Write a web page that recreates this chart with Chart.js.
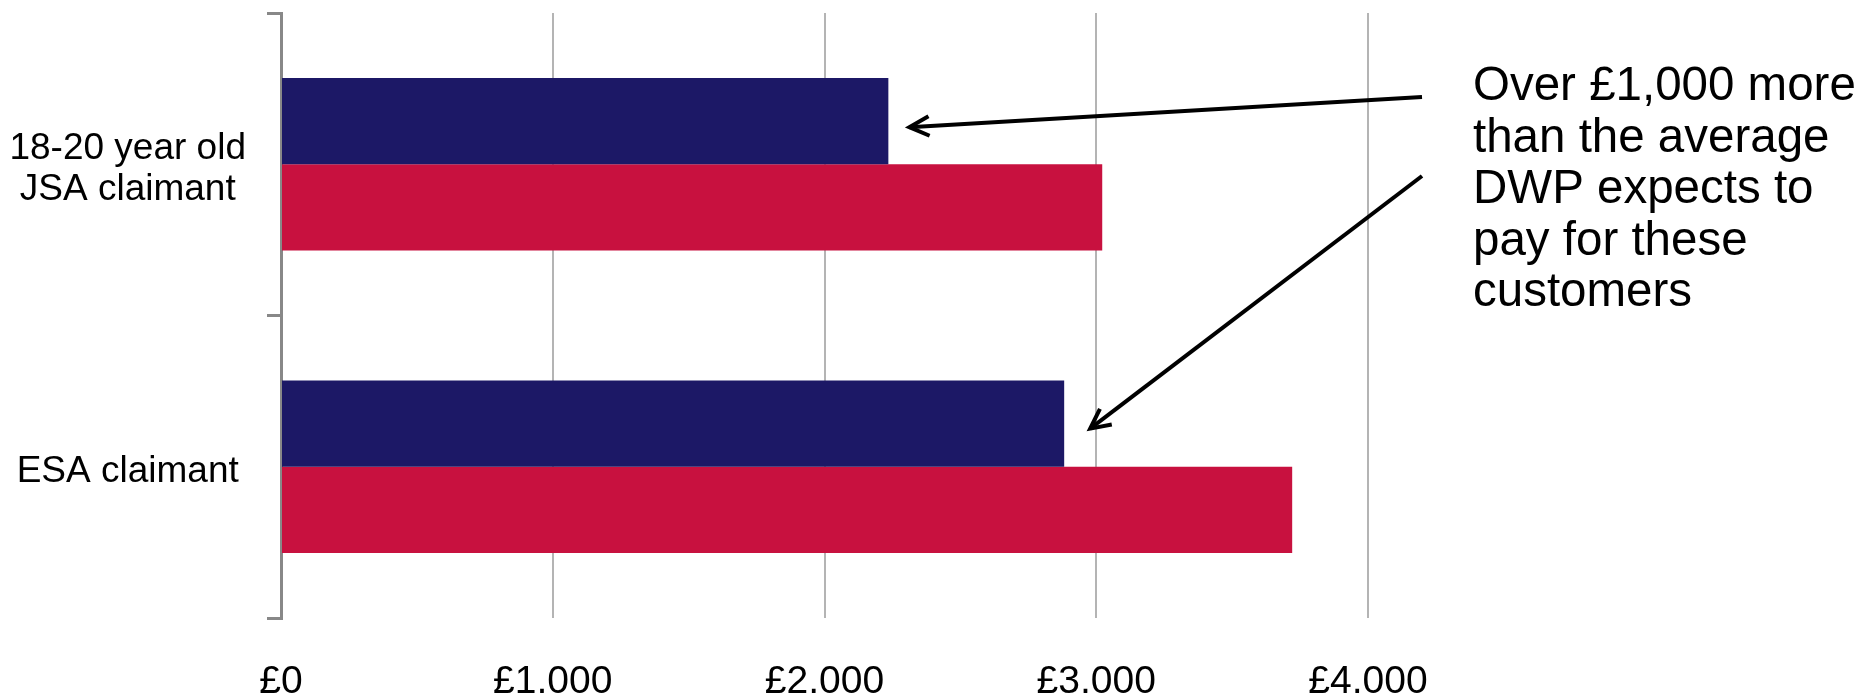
<!DOCTYPE html>
<html>
<head>
<meta charset="utf-8">
<script src="https://cdn.jsdelivr.net/npm/chart.js@4/dist/chart.umd.min.js"></script>
<style>
    html, body { margin: 0; padding: 0; background: #fff; }
    #wrap { width: 1862px; height: 693px; position: relative; }
</style>
</head>
<body>
<div id="wrap"><canvas id="custoChart"></canvas></div>
<script>
// Dados do gráfico
const categorias = [['18-20 year old', 'JSA claimant'], 'ESA claimant'];
const valoresMedia = [2235, 2882];      // barra azul escura
const valoresReais = [3022, 3721];      // barra vermelha
const ticksX = [0, 1000, 2000, 3000, 4000];
const notaTexto = ['Over £1,000 more', 'than the average', 'DWP expects to', 'pay for these', 'customers'];

const FONTE = '"Liberation Sans", Arial, sans-serif';

// Setas e texto da anotação
const anotacaoPlugin = {
    id: 'anotacao',
    afterDatasetsDraw(chart) {
        const ctx = chart.ctx;
        const area = chart.chartArea;
        const meta = chart.getDatasetMeta(0);
        const b1 = meta.data[0];
        const b2 = meta.data[1];

        desenharSeta(ctx, area.right + 54, 97, b1.x + 21, b1.y + 6);
        desenharSeta(ctx, area.right + 54, 176, b2.x + 26, b2.y + 5);

        ctx.save();
        ctx.fillStyle = '#000';
        ctx.font = '47.5px ' + FONTE;
        ctx.textAlign = 'left';
        ctx.textBaseline = 'middle';
        notaTexto.forEach((linha, i) => {
            ctx.fillText(linha, area.right + 105, 87 + i * 51.5);
        });
        ctx.restore();
    }
};

function desenharSeta(ctx, x0, y0, x1, y1) {
    const ang = Math.atan2(y1 - y0, x1 - x0);
    const len = 22;
    const abertura = 0.46;
    ctx.save();
    ctx.strokeStyle = '#000';
    ctx.lineWidth = 4;
    ctx.beginPath();
    ctx.moveTo(x0, y0);
    ctx.lineTo(x1, y1);
    ctx.stroke();
    ctx.beginPath();
    ctx.moveTo(x1 - len * Math.cos(ang - abertura), y1 - len * Math.sin(ang - abertura));
    ctx.lineTo(x1, y1);
    ctx.lineTo(x1 - len * Math.cos(ang + abertura), y1 - len * Math.sin(ang + abertura));
    ctx.stroke();
    ctx.restore();
}

const ctx = document.getElementById('custoChart').getContext('2d');
new Chart(ctx, {
    type: 'bar',
    data: {
        labels: categorias,
        datasets: [{
            label: 'Average',
            data: valoresMedia,
            backgroundColor: '#1c1866',
            categoryPercentage: 0.57,
            barPercentage: 1
        }, {
            label: 'Actual',
            data: valoresReais,
            backgroundColor: '#c8113f',
            categoryPercentage: 0.57,
            barPercentage: 1
        }]
    },
    options: {
        indexAxis: 'y',
        responsive: true,
        maintainAspectRatio: false,
        animation: false,
        devicePixelRatio: 1,
        layout: { padding: { top: 13, right: 494, left: 0, bottom: 0 } },
        plugins: {
            legend: { display: false },
            tooltip: { enabled: false }
        },
        scales: {
            x: {
                min: 0,
                max: 4000,
                afterBuildTicks: scale => {
                    scale.ticks = ticksX.map(v => ({ value: v }));
                },
                afterFit: scale => { scale.height = 75; },
                grid: {
                    color: c => (c.tick && c.tick.value === 0) ? 'rgba(0,0,0,0)' : '#b4b4b4',
                    lineWidth: 2,
                    drawTicks: false
                },
                border: { display: false },
                ticks: {
                    padding: 41,
                    color: '#000',
                    font: { family: FONTE, size: 39 },
                    callback: v => '£' + Number(v).toLocaleString('en-GB')
                }
            },
            y: {
                afterFit: scale => {
                    scale.width = 281;
                    scale.paddingTop = 0;
                    scale.paddingBottom = 0;
                },
                grid: {
                    drawOnChartArea: false,
                    color: '#888888',
                    lineWidth: 3,
                    tickLength: 14
                },
                border: { display: true, color: '#888888', width: 3 },
                ticks: {
                    crossAlign: 'center',
                    padding: 21,
                    labelOffset: 5,
                    color: '#000',
                    font: { family: FONTE, size: 37, lineHeight: 1.1 }
                }
            }
        }
    },
    plugins: [anotacaoPlugin]
});
</script>
</body>
</html>
